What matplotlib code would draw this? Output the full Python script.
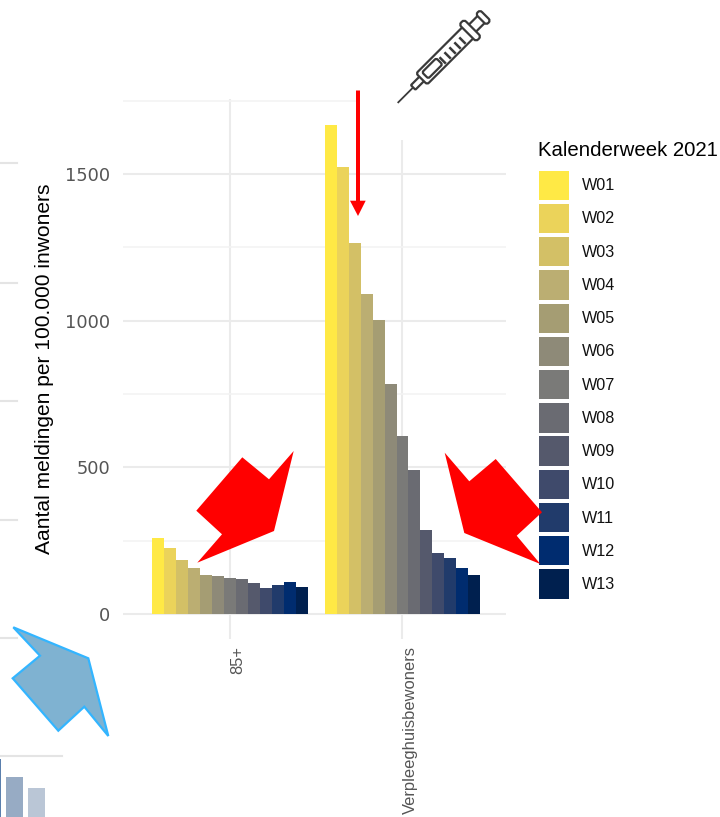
# -*- coding: utf-8 -*-
import matplotlib
matplotlib.use('Agg')
import matplotlib.pyplot as plt
from matplotlib.patches import Patch, Polygon, Rectangle, FancyBboxPatch
from matplotlib.transforms import Affine2D, ScaledTranslation

plt.rcParams['font.family'] = ['Liberation Sans', 'DejaVu Sans']

categories = ['85+', 'Verpleeghuisbewoners']
weeks = ['W01', 'W02', 'W03', 'W04', 'W05', 'W06', 'W07',
         'W08', 'W09', 'W10', 'W11', 'W12', 'W13']
meldingen_85 = [258, 226, 185, 156, 133, 130, 122, 120, 105, 89, 99, 108, 92]
meldingen_vph = [1667, 1524, 1265, 1091, 1002, 784, 607, 491, 286, 208, 191, 157, 133]
week_colors = ['#FFE945', '#EBD35A', '#D3C066', '#BBAE72', '#A59D73', '#8E8A78', '#7A7A78',
               '#6A6B72', '#55596C', '#3F4A6B', '#213B6B', '#002C6F', '#00204F']
yticks = [0, 500, 1000, 1500]
yticks_minor = [250, 750, 1250, 1750]

# neighbouring chart, cropped at the left and bottom edge
prev_bar_x = [-7.5, 14.5, 36.5]
prev_bar_h = [58, 40, 29]
prev_bar_colors = ['#5A7FAD', '#97ABC4', '#BAC6D6']

W, H = 720, 817
fig = plt.figure(figsize=(W / 100, H / 100), dpi=100)


def px_axes(x0, y0, x1, y1, **kw):
    return fig.add_axes([x0 / W, 1 - y1 / H, (x1 - x0) / W, (y1 - y0) / H], **kw)


ax = px_axes(123, 99.3, 506, 639)
ax.set_xlim(-0.62, 1.6)
ax.set_ylim(-85.2, 1755)
for s in ax.spines.values():
    s.set_visible(False)
ax.set_axisbelow(True)

bar_w = 0.9 / 13
for i, wk in enumerate(weeks):
    offset = (i - 6) * bar_w
    ax.bar([0 + offset, 1 + offset], [meldingen_85[i], meldingen_vph[i]], bar_w,
           color=week_colors[i], linewidth=0, label=wk)

ax.set_yticks(yticks)
ax.set_yticks(yticks_minor, minor=True)
ax.set_xticks([0, 1])
ax.set_xticklabels(categories, rotation=90, fontsize=11.9, color='#555555', va='top', ha='center')
ax.tick_params(axis='x', length=0, pad=5.2)
ax.tick_params(axis='y', which='both', length=0)
ax.tick_params(axis='y', pad=9.4)
for lab in ax.get_yticklabels():
    lab.set_family('DejaVu Sans')
    lab.set_fontsize(12.8)
    lab.set_color('#555555')
shift = ScaledTranslation(8 / 100, 0, fig.dpi_scale_trans)
for lab in ax.get_xticklabels():
    lab.set_transform(lab.get_transform() + shift)

ax.grid(True, which='major', color='#EBEBEB', linewidth=1.5)
ax.grid(True, which='minor', axis='y', color='#F3F3F3', linewidth=1.2)

ax.set_ylabel('Aantal meldingen per 100.000 inwoners', fontsize=15.1, color='black', va='center')
ax.yaxis.set_label_coords((44 - 123) / 383, 0.5016)

handles = [Patch(facecolor=c, edgecolor='none') for c in week_colors]
leg = ax.legend(handles, weeks, title='Kalenderweek 2021', frameon=False, fontsize=11.6,
                title_fontsize=14.7, loc='upper left',
                bbox_to_anchor=(538.5 / W, 1 - 141 / H), bbox_transform=fig.transFigure,
                borderpad=0, borderaxespad=0, handlelength=1.89, handleheight=2.42,
                labelspacing=0.245, handletextpad=0.78)
leg._legend_box.align = 'left'
leg._legend_box.sep = 7.6
for t in leg.get_texts():
    t.set_color('#111111')

# neighbouring chart fragment
ax_prev = px_axes(0, 756, 62, 817)
ax_prev.set_xlim(0, 62)
ax_prev.set_ylim(0, 61)
ax_prev.axis('off')
ax_prev.bar(prev_bar_x, prev_bar_h, 17, color=prev_bar_colors, linewidth=0)
ax_prev.axhline(61, color='#E4E4E4', linewidth=1.5, clip_on=False)

# annotations pasted on top, in pixel coordinates
ov = px_axes(0, 0, W, H, zorder=10)
ov.set_xlim(0, W)
ov.set_ylim(H, 0)
ov.axis('off')
ov.patch.set_alpha(0)

for y in [163, 283, 401, 520, 638]:
    ov.plot([0, 17], [y, y], color='#E4E4E4', linewidth=1.5, zorder=1)

ov.add_patch(Rectangle((357, 88), 160, 52, facecolor='white', edgecolor='none', zorder=1))

red = '#FF0000'
ov.add_patch(Polygon([(197.3, 562.7), (222, 534.3), (196.3, 510.7), (242.3, 457.3),
                      (269, 479.3), (293.7, 451), (274, 531)], closed=True, color=red, lw=0, zorder=3))
ov.add_patch(Polygon([(444.7, 452.7), (469.3, 481.3), (495.7, 459), (542, 512.3),
                      (516.7, 535.7), (540.3, 564), (464.3, 533)], closed=True, color=red, lw=0, zorder=3))
ov.add_patch(Polygon([(356, 90.5), (360, 90.5), (360, 200.7), (365.7, 200.7), (358, 216),
                      (350, 200.7), (356, 200.7)], closed=True, color=red, lw=0, zorder=3))
ov.add_patch(Polygon([(13.3, 627.3), (88.3, 658.3), (108.3, 736), (84.3, 706.7), (58.3, 730.7),
                      (12.7, 678.3), (40, 655.7)], closed=True, facecolor='#7FB2D1',
                     edgecolor='#33B5FF', linewidth=1.6, zorder=3))

# syringe
syr = Affine2D().rotate_deg(-45).translate(398.3, 102.3) + ov.transData
ink = '#3A3A3A'


def syr_box(u0, u1, half, rad=1.5, lw=1.6):
    ov.add_patch(FancyBboxPatch((u0, -half), u1 - u0, 2 * half,
                                boxstyle='round,pad=0,rounding_size=%s' % rad, facecolor='white',
                                edgecolor=ink, linewidth=lw, transform=syr, zorder=4))


ov.plot([0, 21], [0, 0], color=ink, linewidth=1.3, transform=syr, zorder=4)
syr_box(21, 36, 3.2, rad=1)
syr_box(104, 118, 5, rad=0.5)
syr_box(33, 100, 7.8, rad=2.5)
syr_box(38, 58, 4.4, rad=2)
for u in [61, 68, 75, 82, 89]:
    ov.plot([u, u], [-1.5, 5], color=ink, linewidth=1.8, transform=syr, zorder=5)
syr_box(98, 105, 12, rad=3)
syr_box(117, 123, 7.5, rad=2.8)

fig.savefig('out.png', dpi=100)
